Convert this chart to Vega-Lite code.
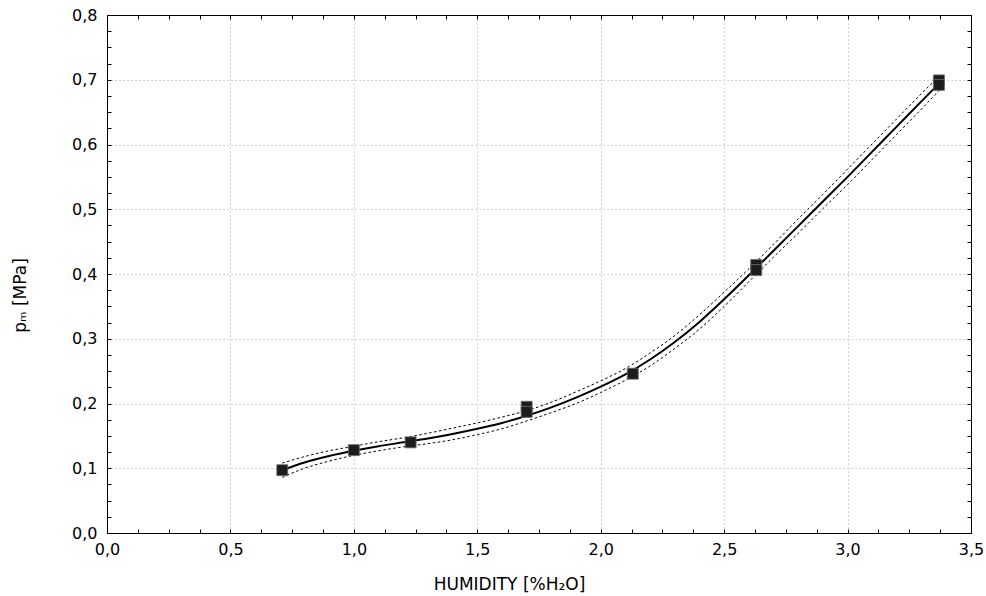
{
  "$schema": "https://vega.github.io/schema/vega-lite/v6.json",
  "width": 864,
  "height": 518,
  "autosize": {"type": "none"},
  "padding": {"left": 107, "top": 15, "right": 15, "bottom": 63},
  "background": "white",
  "config": {
    "locale": {"number": {"decimal": ",", "thousands": ".", "grouping": [3], "currency": ["", ""]}},
    "font": "DejaVu Sans",
    "view": {"stroke": "black", "strokeWidth": 1},
    "axis": {
      "labelFont": "DejaVu Sans",
      "titleFont": "DejaVu Sans",
      "labelFontSize": 16,
      "titleFontSize": 17,
      "labelColor": "black",
      "titleColor": "black",
      "titleFontWeight": "normal",
      "domainColor": "black",
      "tickColor": "black",
      "tickSize": -4,
      "labelOverlap": false,
      "labelFlush": false
    }
  },
  "datasets": {
    "fit": [
      {"x": 0.71, "y": 0.097, "lo": 0.086, "hi": 0.108},
      {"x": 0.8, "y": 0.109, "lo": 0.100, "hi": 0.118},
      {"x": 0.9, "y": 0.119, "lo": 0.111, "hi": 0.127},
      {"x": 1.0, "y": 0.127, "lo": 0.120, "hi": 0.134},
      {"x": 1.1, "y": 0.134, "lo": 0.127, "hi": 0.141},
      {"x": 1.2, "y": 0.140, "lo": 0.133, "hi": 0.147},
      {"x": 1.3, "y": 0.146, "lo": 0.138, "hi": 0.154},
      {"x": 1.4, "y": 0.153, "lo": 0.144, "hi": 0.162},
      {"x": 1.5, "y": 0.161, "lo": 0.152, "hi": 0.170},
      {"x": 1.6, "y": 0.170, "lo": 0.161, "hi": 0.179},
      {"x": 1.7, "y": 0.181, "lo": 0.173, "hi": 0.189},
      {"x": 1.8, "y": 0.194, "lo": 0.186, "hi": 0.202},
      {"x": 1.9, "y": 0.209, "lo": 0.200, "hi": 0.218},
      {"x": 2.0, "y": 0.226, "lo": 0.217, "hi": 0.235},
      {"x": 2.1, "y": 0.245, "lo": 0.236, "hi": 0.254},
      {"x": 2.2, "y": 0.268, "lo": 0.258, "hi": 0.278},
      {"x": 2.3, "y": 0.295, "lo": 0.285, "hi": 0.305},
      {"x": 2.4, "y": 0.326, "lo": 0.315, "hi": 0.337},
      {"x": 2.5, "y": 0.361, "lo": 0.350, "hi": 0.372},
      {"x": 2.6, "y": 0.398, "lo": 0.388, "hi": 0.408},
      {"x": 2.7, "y": 0.436, "lo": 0.426, "hi": 0.446},
      {"x": 2.8, "y": 0.474, "lo": 0.463, "hi": 0.485},
      {"x": 2.9, "y": 0.512, "lo": 0.501, "hi": 0.523},
      {"x": 3.0, "y": 0.550, "lo": 0.538, "hi": 0.562},
      {"x": 3.1, "y": 0.589, "lo": 0.577, "hi": 0.601},
      {"x": 3.2, "y": 0.628, "lo": 0.616, "hi": 0.640},
      {"x": 3.3, "y": 0.667, "lo": 0.655, "hi": 0.679},
      {"x": 3.37, "y": 0.694, "lo": 0.683, "hi": 0.705}
    ],
    "points": [
      {"x": 0.71, "y": 0.097},
      {"x": 1.0, "y": 0.128},
      {"x": 1.23, "y": 0.140},
      {"x": 1.70, "y": 0.195},
      {"x": 1.70, "y": 0.187},
      {"x": 2.13, "y": 0.246},
      {"x": 2.63, "y": 0.414},
      {"x": 2.63, "y": 0.406},
      {"x": 3.37, "y": 0.699},
      {"x": 3.37, "y": 0.692}
    ]
  },
  "resolve": {"axis": {"x": "independent", "y": "independent"}},
  "layer": [
    {
      "data": {"name": "fit"},
      "mark": {"type": "line", "color": "black", "strokeWidth": 2, "interpolate": "monotone"},
      "encoding": {
        "x": {
          "field": "x", "type": "quantitative",
          "scale": {"domain": [0, 3.5], "nice": false, "zero": false},
          "axis": {
            "orient": "bottom",
            "title": "HUMIDITY [%H₂O]",
            "titlePadding": 19,
            "titleX": 402,
            "values": [0,0.125,0.25,0.375,0.5,0.625,0.75,0.875,1,1.125,1.25,1.375,1.5,1.625,1.75,1.875,2,2.125,2.25,2.375,2.5,2.625,2.75,2.875,3,3.125,3.25,3.375,3.5],
            "format": ".1f",
            "labelExpr": "abs(datum.value*2 - round(datum.value*2)) < 0.001 ? datum.label : ''",
            "labelPadding": 12,
            "grid": true,
            "gridColor": "#c8c8c8",
            "gridDash": [1.5, 2.5],
            "gridOpacity": {"condition": {"test": "abs(datum.value*2 - round(datum.value*2)) < 0.001", "value": 1}, "value": 0}
          }
        },
        "y": {
          "field": "y", "type": "quantitative",
          "scale": {"domain": [0, 0.8], "nice": false, "zero": false},
          "axis": {
            "orient": "left",
            "title": "pₘ [MPa]",
            "titlePadding": 42,
            "titleY": 280,
            "values": [0,0.025,0.05,0.075,0.1,0.125,0.15,0.175,0.2,0.225,0.25,0.275,0.3,0.325,0.35,0.375,0.4,0.425,0.45,0.475,0.5,0.525,0.55,0.575,0.6,0.625,0.65,0.675,0.7,0.725,0.75,0.775,0.8],
            "format": ".1f",
            "labelExpr": "abs(datum.value*10 - round(datum.value*10)) < 0.001 ? datum.label : ''",
            "labelPadding": 14,
            "grid": true,
            "gridColor": "#c8c8c8",
            "gridDash": [1.5, 2.5],
            "gridOpacity": {"condition": {"test": "abs(datum.value*10 - round(datum.value*10)) < 0.001", "value": 1}, "value": 0}
          }
        }
      }
    },
    {
      "data": {"name": "fit"},
      "mark": {"type": "line", "color": "black", "strokeWidth": 1, "strokeDash": [2.5, 2.5], "interpolate": "monotone"},
      "encoding": {
        "x": {
          "field": "x", "type": "quantitative",
          "axis": {
            "orient": "top", "title": null, "labels": false, "grid": false,
            "values": [0,0.125,0.25,0.375,0.5,0.625,0.75,0.875,1,1.125,1.25,1.375,1.5,1.625,1.75,1.875,2,2.125,2.25,2.375,2.5,2.625,2.75,2.875,3,3.125,3.25,3.375,3.5]
          }
        },
        "y": {
          "field": "lo", "type": "quantitative",
          "axis": {
            "orient": "right", "title": null, "labels": false, "grid": false,
            "values": [0,0.025,0.05,0.075,0.1,0.125,0.15,0.175,0.2,0.225,0.25,0.275,0.3,0.325,0.35,0.375,0.4,0.425,0.45,0.475,0.5,0.525,0.55,0.575,0.6,0.625,0.65,0.675,0.7,0.725,0.75,0.775,0.8]
          }
        }
      }
    },
    {
      "data": {"name": "fit"},
      "mark": {"type": "line", "color": "black", "strokeWidth": 1, "strokeDash": [2.5, 2.5], "interpolate": "monotone"},
      "encoding": {
        "x": {"field": "x", "type": "quantitative", "axis": null},
        "y": {"field": "hi", "type": "quantitative", "axis": null}
      }
    },
    {
      "data": {"name": "points"},
      "mark": {"type": "square", "size": 121, "filled": true, "color": "#1c1c1c", "stroke": "#707070", "strokeWidth": 0.8, "opacity": 1},
      "encoding": {
        "x": {"field": "x", "type": "quantitative", "axis": null},
        "y": {"field": "y", "type": "quantitative", "axis": null}
      }
    }
  ]
}
